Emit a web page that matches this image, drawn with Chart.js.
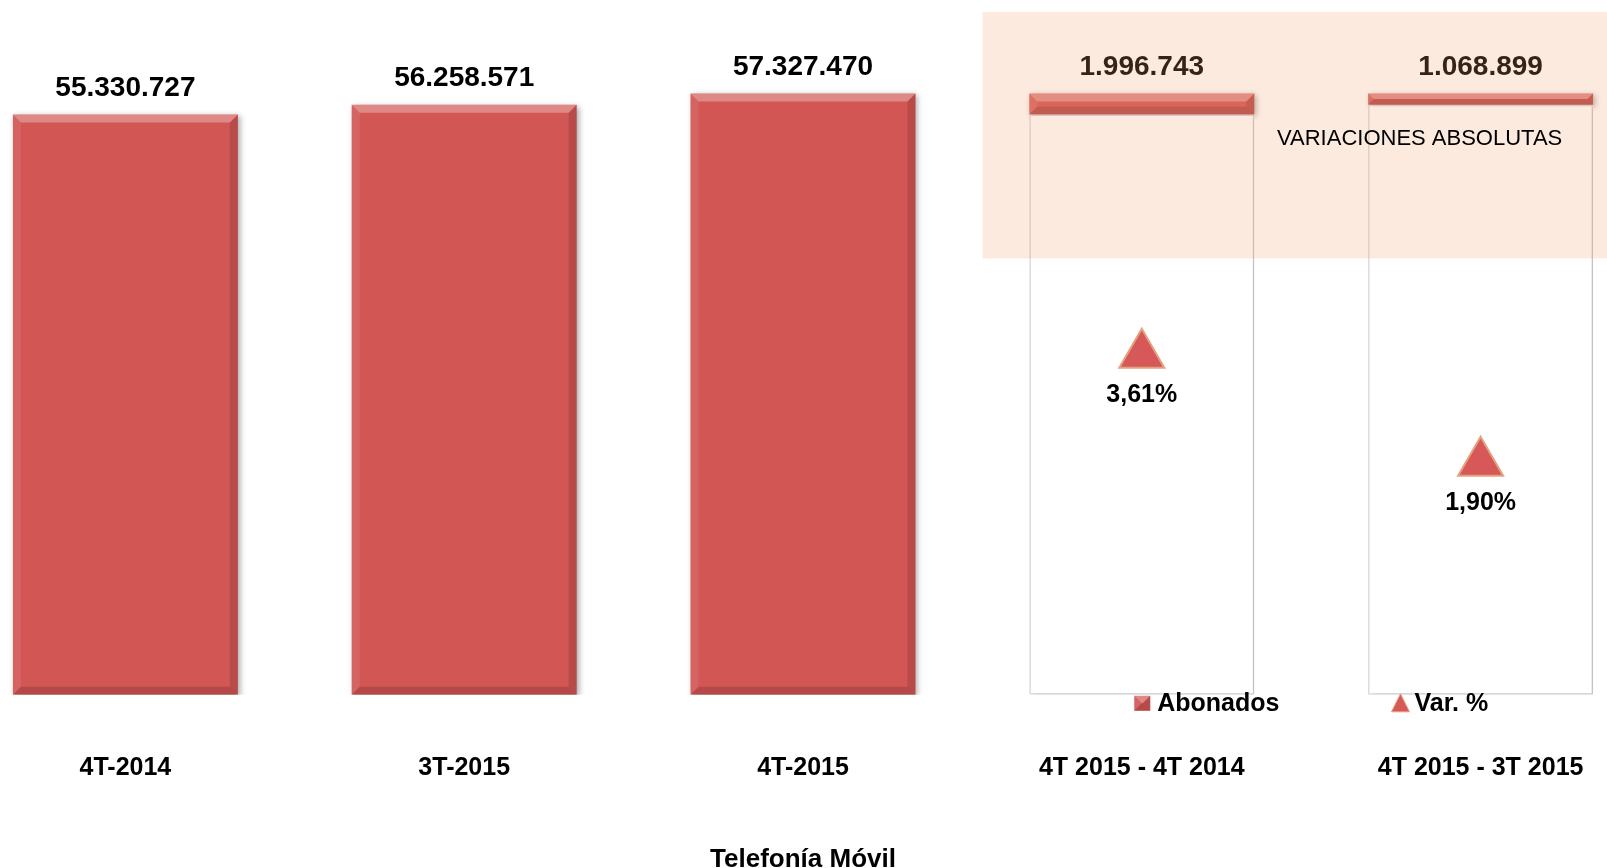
<!DOCTYPE html>
<html lang="es">
<head>
<meta charset="utf-8">
<title>Telefonía Móvil</title>
<script src="https://cdn.jsdelivr.net/npm/chart.js@4.4.1/dist/chart.umd.min.js"></script>
<style>
    html, body { margin: 0; padding: 0; background: #fff; overflow: hidden; }
    #wrap { position: absolute; left: -44px; top: 0; width: 1694px; height: 868px; }
</style>
</head>
<body>
<div id="wrap"><canvas id="chart"></canvas></div>
<script>
const categories = ['4T-2014', '3T-2015', '4T-2015', '4T 2015 - 4T 2014', '4T 2015 - 3T 2015'];
const abonados = [55330727, 56258571, 57327470, 1996743, 1068899];
// base blanca de las variaciones (valor del periodo anterior)
const baseVariaciones = [null, null, null, 55330727, 56258571];
const varPct = [null, null, null, 3.61, 1.90];

const FONT = '"Liberation Sans", Arial, sans-serif';
const RED = '#D25654';

const fmtNum = v => String(v).replace(/\B(?=(\d{3})+(?!\d))/g, '.');
const fmtPct = v => v.toFixed(2).replace('.', ',') + '%';

// zona sombreada y rótulo, en unidades de las escalas
const zona = { xFrom: 2.53, yTo: 41600000 };
const rotulo = { text: 'VARIACIONES ABSOLUTAS', x: 3.82, y: 53000000 };

function bevel(ctx, l, t, r, b) {
    const h = b - t;
    const s = Math.min(8, h / 2);
    const poly = (pts, fill) => {
        ctx.beginPath();
        ctx.moveTo(pts[0][0], pts[0][1]);
        for (let i = 1; i < pts.length; i++) ctx.lineTo(pts[i][0], pts[i][1]);
        ctx.closePath();
        ctx.fillStyle = fill;
        ctx.fill();
    };
    poly([[l, t], [r, t], [r - s, t + s], [l + s, t + s]], 'rgba(255,255,255,0.30)');
    poly([[l, b], [r, b], [r - s, b - s], [l + s, b - s]], 'rgba(0,0,0,0.14)');
    poly([[l, t], [l + s, t + s], [l + s, b - s], [l, b]], 'rgba(255,255,255,0.08)');
    poly([[r, t], [r - s, t + s], [r - s, b - s], [r, b]], 'rgba(0,0,0,0.12)');
}

const effects = {
    id: 'effects',
    beforeDatasetDraw(chart, args) {
        if (args.meta.type !== 'bar') return;
        const ctx = chart.ctx;
        ctx.save();
        ctx.shadowColor = args.index === 2 ? 'rgba(0,0,0,0.35)' : 'rgba(0,0,0,0.15)';
        ctx.shadowBlur = 6;
        ctx.shadowOffsetX = 2;
        ctx.shadowOffsetY = 2;
    },
    afterDatasetDraw(chart, args) {
        if (args.meta.type !== 'bar') return;
        const ctx = chart.ctx;
        ctx.restore();
        if (args.index !== 2) return;
        args.meta.data.forEach(el => {
            const l = el.x - el.width / 2, r = el.x + el.width / 2;
            const t = Math.min(el.y, el.base), b = Math.max(el.y, el.base);
            bevel(ctx, l, t, r, b);
        });
    },
    afterDatasetsDraw(chart) {
        const ctx = chart.ctx;
        const xs = chart.scales.x, ys = chart.scales.y, area = chart.chartArea;
        ctx.save();
        ctx.textAlign = 'center';
        ctx.textBaseline = 'middle';
        ctx.fillStyle = '#000';
        ctx.font = 'bold 28px ' + FONT;
        chart.getDatasetMeta(2).data.forEach((el, i) => {
            const t = Math.min(el.y, el.base);
            ctx.fillText(fmtNum(abonados[i]), el.x, t - 26);
        });
        ctx.font = 'bold 25px ' + FONT;
        chart.getDatasetMeta(0).data.forEach((el, i) => {
            if (varPct[i] == null) return;
            ctx.fillText(fmtPct(varPct[i]), el.x, el.y + 40);
        });
        // sombreado encima de todo
        const x0 = xs.getPixelForValue(zona.xFrom);
        const y0 = area.top - 1;
        const y1 = ys.getPixelForValue(zona.yTo);
        ctx.fillStyle = 'rgba(245,160,110,0.22)';
        ctx.fillRect(x0, y0, chart.width - x0, y1 - y0);
        ctx.fillStyle = '#000';
        ctx.font = '22px ' + FONT;
        ctx.fillText(rotulo.text, xs.getPixelForValue(rotulo.x), ys.getPixelForValue(rotulo.y));
        ctx.restore();
    },
    afterDraw(chart) {
        const ctx = chart.ctx;
        const xs = chart.scales.x, area = chart.chartArea;
        ctx.save();
        ctx.font = 'bold 25px ' + FONT;
        ctx.textBaseline = 'middle';
        ctx.textAlign = 'left';
        const lab1 = chart.data.datasets[2].label, lab2 = chart.data.datasets[0].label;
        const w1 = 16 + 7 + ctx.measureText(lab1).width;
        const w2 = 18 + 5 + ctx.measureText(lab2).width;
        const gap = 112;
        const cy = area.bottom + 8;
        let x = xs.getPixelForValue(3.5) - (w1 + gap + w2) / 2;
        ctx.fillStyle = RED;
        ctx.fillRect(x, cy - 7, 16, 15);
        bevel(ctx, x, cy - 7, x + 16, cy + 8);
        ctx.fillStyle = '#000';
        ctx.fillText(lab1, x + 23, cy + 1);
        x += w1 + gap;
        ctx.beginPath();
        ctx.moveTo(x + 9, cy - 9);
        ctx.lineTo(x + 18, cy + 9);
        ctx.lineTo(x, cy + 9);
        ctx.closePath();
        ctx.fillStyle = '#D75858';
        ctx.fill();
        ctx.strokeStyle = '#E3A27E';
        ctx.lineWidth = 1;
        ctx.stroke();
        ctx.fillStyle = '#000';
        ctx.fillText(lab2, x + 23, cy + 1);
        ctx.restore();
    }
};

new Chart(document.getElementById('chart'), {
    type: 'bar',
    data: {
        labels: categories,
        datasets: [
            {
                type: 'line',
                label: 'Var. %',
                data: varPct,
                yAxisID: 'y1',
                showLine: false,
                pointStyle: 'triangle',
                pointRadius: 26,
                pointBackgroundColor: '#D75858',
                pointBorderColor: '#E3A27E',
                pointBorderWidth: 2
            },
            {
                label: 'base',
                data: baseVariaciones,
                backgroundColor: '#FFFFFF',
                borderColor: '#D9D9D9',
                borderWidth: 1.5,
                borderSkipped: false,
                barPercentage: 0.664,
                categoryPercentage: 1
            },
            {
                label: 'Abonados',
                data: abonados,
                backgroundColor: RED,
                borderWidth: 0,
                barPercentage: 0.664,
                categoryPercentage: 1
            }
        ]
    },
    options: {
        responsive: true,
        maintainAspectRatio: false,
        animation: false,
        layout: { autoPadding: false, padding: { top: 13, left: 0, right: 0, bottom: -4 } },
        plugins: {
            legend: { display: false },
            tooltip: { enabled: false }
        },
        scales: {
            x: {
                stacked: true,
                grid: { display: false, drawTicks: false },
                border: { display: false },
                ticks: {
                    color: '#000',
                    font: { family: FONT, size: 25, weight: 'bold' },
                    padding: 58,
                    maxRotation: 0,
                    autoSkip: false
                },
                title: {
                    display: true,
                    text: 'Telefonía Móvil',
                    color: '#000',
                    font: { family: FONT, size: 26, weight: 'bold' },
                    padding: { top: 3, bottom: -3 }
                }
            },
            y: { stacked: true, display: false, min: 0, max: 65000000 },
            y1: { display: false, min: -1.78, max: 9.03 }
        }
    },
    plugins: [effects]
});
</script>
</body>
</html>
